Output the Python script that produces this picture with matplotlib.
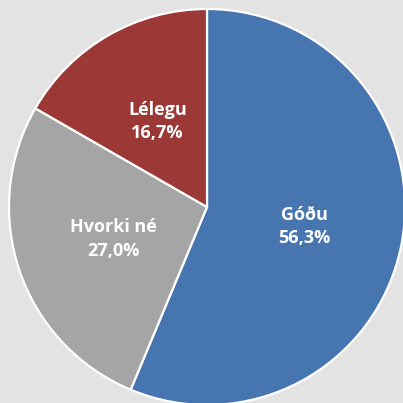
import matplotlib
matplotlib.use("Agg")
import matplotlib.pyplot as plt

categories = ["Góðu", "Hvorki né", "Lélegu"]
values = [56.3, 27.0, 16.7]
colors = ["#4675b0", "#a5a5a5", "#9c3836"]

labels = [f"{c}\n{v:.1f}%".replace(".", ",") for c, v in zip(categories, values)]

fig = plt.figure(figsize=(4.03, 4.03), dpi=100)
fig.patch.set_facecolor("#e3e3e3")
ax = fig.add_axes([0, 0, 1, 1])
ax.set_facecolor("#e3e3e3")

wedges, texts = ax.pie(values, colors=colors, startangle=90, counterclock=False,
                       center=(207, 196), radius=198, labels=labels,
                       labeldistance=0.5, frame=True,
                       wedgeprops=dict(edgecolor="white", linewidth=1.6),
                       textprops=dict(color="white", fontsize=13, fontweight="bold",
                                      family=["Open Sans", "DejaVu Sans"], ha="center",
                                      va="center", linespacing=1.4))
ax.set_xlim(0, 403)
ax.set_ylim(0, 403)
ax.set_aspect("equal")
ax.axis("off")
fig.savefig("out.png", dpi=100, facecolor=fig.get_facecolor())
